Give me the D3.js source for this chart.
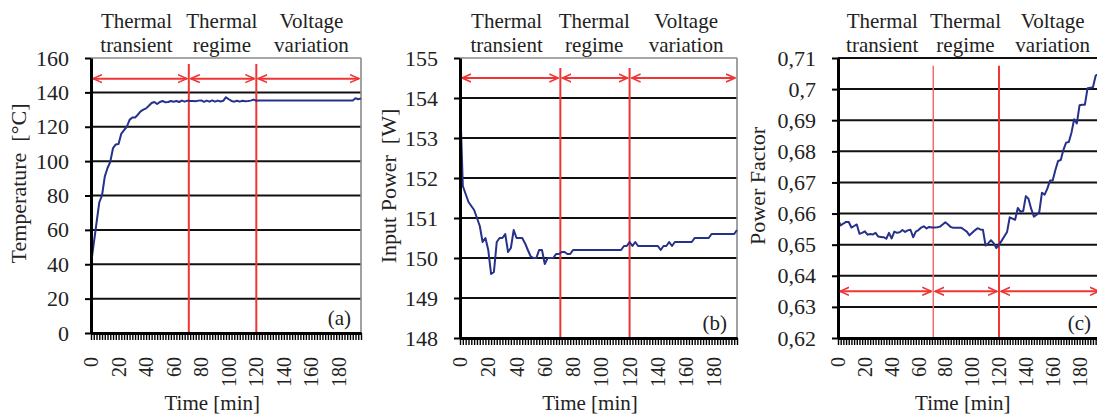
<!DOCTYPE html>
<html>
<head>
<meta charset="utf-8">
<script src="https://cdn.jsdelivr.net/npm/d3@7"></script>
<style>
  body { margin: 0; background: #fff; }
  text { font-family: "Liberation Serif", "Times New Roman", serif; fill: #222; white-space: pre; }
</style>
</head>
<body>
<script>
// Time categories [min], one sample every 2 minutes
const minutes = [
  0, 2, 4, 6, 8, 10, 12, 14, 16, 18,
  20, 22, 24, 26, 28, 30, 32, 34, 36, 38,
  40, 42, 44, 46, 48, 50, 52, 54, 56, 58,
  60, 62, 64, 66, 68, 70, 72, 74, 76, 78,
  80, 82, 84, 86, 88, 90, 92, 94, 96, 98,
  100, 102, 104, 106, 108, 110, 112, 114, 116, 118,
  120, 122, 124, 126, 128, 130, 132, 134, 136, 138,
  140, 142, 144, 146, 148, 150, 152, 154, 156, 158,
  160, 162, 164, 166, 168, 170, 172, 174, 176, 178,
  180, 182, 184, 186, 188, 190, 192, 194, 196
];

// (a) Temperature [°C]
const temperature = [
  40, 52, 64, 76, 80, 91, 96, 99.6, 107.6, 109.7,
  110, 116, 118, 120, 124, 125.4, 125.4, 127, 129, 130,
  130.7, 132.2, 133.8, 134.4, 133.2, 134.4, 135, 134.2, 134.4, 135,
  134.6, 135, 134.4, 135.2, 134.6, 135.2, 135, 135, 134.8, 135.2,
  135.3, 134.5, 135.2, 134.6, 135.3, 134.6, 135.2, 134.7, 135.1, 137.2,
  136, 135, 134.6, 135.1, 134.6, 135.1, 134.9, 135, 135.2, 135.8,
  135.1, 135.3, 135.3, 135.3, 135.3, 135.3, 135.3, 135.3, 135.3, 135.3,
  135.3, 135.3, 135.3, 135.3, 135.3, 135.3, 135.3, 135.3, 135.3, 135.3,
  135.3, 135.3, 135.3, 135.3, 135.3, 135.3, 135.3, 135.3, 135.3, 135.3,
  135.3, 135.3, 135.3, 135.3, 135.3, 135.3, 136.6, 136, 136.5
];

// (b) Input Power [W]
const inputPower = [
  154, 151.8, 151.6, 151.4, 151.3, 151.2, 151.0, 150.8, 150.4, 150.5,
  150.2, 149.6, 149.65, 150.4, 150.5, 150.5, 150.6, 150.15, 150.25, 150.7,
  150.5, 150.5, 150.5, 150.37, 150.2, 150.04, 150.0, 150.0, 150.2, 150.2,
  149.85, 150.0, 150.0, 150.0, 150.1, 150.1, 150.15, 150.15, 150.1, 150.1,
  150.2, 150.2, 150.2, 150.2, 150.2, 150.2, 150.2, 150.2, 150.2, 150.2,
  150.2, 150.2, 150.2, 150.2, 150.2, 150.2, 150.2, 150.2, 150.3, 150.3,
  150.4, 150.3, 150.4, 150.3, 150.3, 150.3, 150.3, 150.3, 150.3, 150.3,
  150.3, 150.2, 150.3, 150.3, 150.4, 150.3, 150.4, 150.4, 150.4, 150.4,
  150.4, 150.4, 150.4, 150.5, 150.5, 150.5, 150.5, 150.5, 150.5, 150.6,
  150.6, 150.6, 150.6, 150.6, 150.6, 150.6, 150.6, 150.6, 150.7
];

// (c) Power Factor
const powerFactor = [
  0.658, 0.6562, 0.6568, 0.6573, 0.6573, 0.6555, 0.656, 0.6565, 0.6535, 0.6538,
  0.6543, 0.6532, 0.6534, 0.6533, 0.6538, 0.6526, 0.6525, 0.6524, 0.6519, 0.6538,
  0.652, 0.6542, 0.6538, 0.654, 0.6547, 0.6541, 0.6546, 0.6548, 0.6524, 0.6542,
  0.6547, 0.6555, 0.6559, 0.6552, 0.6557, 0.6555, 0.6555, 0.6556, 0.6558, 0.6565,
  0.6572, 0.6565, 0.6557, 0.6554, 0.6554, 0.6554, 0.6554, 0.6548, 0.6542, 0.653,
  0.6538, 0.6546, 0.6553, 0.6549, 0.6548, 0.6497, 0.6505, 0.6514, 0.6505, 0.6489,
  0.65, 0.6513, 0.6527, 0.6541, 0.6588, 0.6584, 0.658, 0.6618, 0.6606, 0.6608,
  0.6656, 0.6647, 0.6615, 0.659, 0.6596, 0.6605, 0.6667, 0.6661, 0.668, 0.6706,
  0.6706, 0.674, 0.6769, 0.6772, 0.6805, 0.6828, 0.683, 0.686, 0.6903, 0.689,
  0.6948, 0.695, 0.695, 0.7003, 0.7004, 0.7006, 0.7043, 0.7048
];

// Tick labels
const timeTicks = [0, 20, 40, 60, 80, 100, 120, 140, 160, 180];
const temperatureTicks = [0, 20, 40, 60, 80, 100, 120, 140, 160];
const powerTicks = [148, 149, 150, 151, 152, 153, 154, 155];
const factorTicks = [0.62, 0.63, 0.64, 0.65, 0.66, 0.67, 0.68, 0.69, 0.70, 0.71];

// Test phases
const phaseBounds = [71, 120];
const phaseSpans = [[0, 71], [71, 120], [120, 196]];
const phaseCenters = [33, 95, 160];
const phaseLabels = [["Thermal", "transient"], ["Thermal", "regime"], ["Voltage", "variation"]];

const svgWidth = 1097;
const svgHeight = 416;
const serif = "Liberation Serif, Times New Roman, serif";
const lineColor = "#26318a";
const redColor = "#ef3535";

const svg = d3.select("body")
  .append("svg")
  .attr("width", svgWidth)
  .attr("height", svgHeight);

// arrow head for the phase arrows
svg.append("defs").append("marker")
  .attr("id", "head")
  .attr("viewBox", "0 -5 10 10")
  .attr("refX", 9)
  .attr("refY", 0)
  .attr("markerWidth", 10)
  .attr("markerHeight", 10)
  .attr("markerUnits", "userSpaceOnUse")
  .attr("orient", "auto-start-reverse")
  .append("path")
  .attr("d", "M0,-4L9,0L0,4")
  .attr("fill", "none")
  .attr("stroke", redColor)
  .attr("stroke-width", 1.6);

const panels = [
  { values: temperature, yDomain: [0, 160], yTicks: temperatureTicks, fmt: d => d,
    left: 91, right: 361, top: 58, bottom: 333, grayTop: true, softFirst: false,
    title: "Temperature  [°C]", titleX: 26, timeX: 88, tag: "(a)", arrowAt: 148, redTop: 156.5 },
  { values: inputPower, yDomain: [148, 155], yTicks: powerTicks, fmt: d => d,
    left: 460, right: 737, top: 58, bottom: 338, grayTop: true, softFirst: false,
    title: "Input Power  [W]", titleX: 396, timeX: 92, tag: "(b)", arrowAt: 154.5, redTop: 154.75 },
  { values: powerFactor, yDomain: [0.62, 0.71], yTicks: factorTicks, fmt: d => String(d).replace(".", ","),
    left: 838, right: 1101, top: 58, bottom: 338, grayTop: false, softFirst: true,
    title: "Power Factor", titleX: 765, timeX: 93, tag: "(c)", arrowAt: 0.635, redTop: 0.7075 }
];

panels.forEach(p => {
  const x = d3.scaleLinear().domain([0, 196]).range([p.left, p.right]);
  const y = d3.scaleLinear().domain(p.yDomain).range([p.bottom, p.top]);
  const g = svg.append("g");

  // horizontal gridlines
  const top = p.yDomain[1];
  g.selectAll(".grid")
    .data(p.yTicks.filter(d => d !== p.yDomain[0]))
    .enter()
    .append("line")
    .attr("x1", p.left)
    .attr("x2", p.right)
    .attr("y1", d => y(d))
    .attr("y2", d => y(d))
    .attr("stroke", d => (d === top && p.grayTop) ? "#8a8a8a" : "#111")
    .attr("stroke-width", d => (d === top && p.grayTop) ? 1.6 : 2);

  // right border of plot area
  if (p.grayTop) {
    g.append("line")
      .attr("x1", p.right).attr("x2", p.right)
      .attr("y1", p.top).attr("y2", p.bottom)
      .attr("stroke", "#8a8a8a")
      .attr("stroke-width", 1.6);
  }

  // red phase boundaries
  g.selectAll(".bound")
    .data(phaseBounds)
    .enter()
    .append("line")
    .attr("x1", d => x(d)).attr("x2", d => x(d))
    .attr("y1", y(p.redTop)).attr("y2", p.bottom)
    .attr("stroke", (d, i) => (p.softFirst && i === 0) ? "#f36a6a" : redColor)
    .attr("stroke-width", (d, i) => (p.softFirst && i === 0) ? 1.5 : 2);

  // double arrows
  g.selectAll(".arrow")
    .data(phaseSpans)
    .enter()
    .append("line")
    .attr("x1", d => x(d[0]) + 2)
    .attr("x2", d => x(d[1]) - 2)
    .attr("y1", y(p.arrowAt))
    .attr("y2", y(p.arrowAt))
    .attr("stroke", redColor)
    .attr("stroke-width", 2)
    .attr("marker-start", "url(#head)")
    .attr("marker-end", "url(#head)");

  // data line
  const line = d3.line()
    .x((d, i) => x(minutes[i]))
    .y(d => y(d));
  g.append("path")
    .datum(p.values)
    .attr("d", line)
    .attr("fill", "none")
    .attr("stroke", lineColor)
    .attr("stroke-width", 2)
    .attr("stroke-linejoin", "round");

  // y axis
  const yAxis = g.append("g")
    .attr("transform", `translate(${p.left},0)`)
    .call(d3.axisLeft(y).tickValues(p.yTicks).tickSize(6).tickSizeOuter(0).tickPadding(16).tickFormat(p.fmt));
  yAxis.attr("font-family", serif);
  yAxis.select(".domain").attr("stroke", "#000").attr("stroke-width", 3);
  yAxis.selectAll(".tick line").attr("stroke", "#000").attr("stroke-width", 2);
  yAxis.selectAll(".tick text")
    .attr("font-size", 22)
    .attr("font-family", serif)
    .attr("fill", "#222");

  // x axis (tick every category)
  const xAxis = g.append("g")
    .attr("transform", `translate(0,${p.bottom})`)
    .call(d3.axisBottom(x).tickValues(minutes).tickSize(7).tickSizeOuter(0).tickFormat(""));
  xAxis.select(".domain").attr("stroke", "#000").attr("stroke-width", 3);
  xAxis.selectAll(".tick line").attr("stroke", "#000").attr("stroke-width", 1.4);

  // rotated time labels
  g.selectAll(".tlabel")
    .data(timeTicks)
    .enter()
    .append("text")
    .attr("transform", d => `translate(${x(d)},357) rotate(-90)`)
    .attr("dy", "0.35em")
    .attr("text-anchor", "end")
    .attr("font-family", serif)
    .attr("font-size", 20)
    .text(d => d);

  g.append("text")
    .attr("x", x(p.timeX))
    .attr("y", 410)
    .attr("text-anchor", "middle")
    .attr("font-family", serif)
    .attr("font-size", 21)
    .text("Time [min]");

  // y title
  g.append("text")
    .attr("transform", `translate(${p.titleX},${(p.top + p.bottom) / 2 - 12}) rotate(-90)`)
    .attr("text-anchor", "middle")
    .attr("font-family", serif)
    .attr("font-size", 22)
    .text(p.title);

  // panel tag
  g.append("text")
    .attr("x", p.right - 10)
    .attr("y", p.bottom - 8)
    .attr("text-anchor", "end")
    .attr("font-family", serif)
    .attr("font-size", 21)
    .text(p.tag);

  // phase headings
  phaseLabels.forEach((lines, i) => {
    lines.forEach((s, j) => {
      g.append("text")
        .attr("x", x(phaseCenters[i]))
        .attr("y", 28 + j * 24)
        .attr("text-anchor", "middle")
        .attr("font-family", serif)
        .attr("font-size", 21)
        .text(s);
    });
  });
});
</script>
</body>
</html>
